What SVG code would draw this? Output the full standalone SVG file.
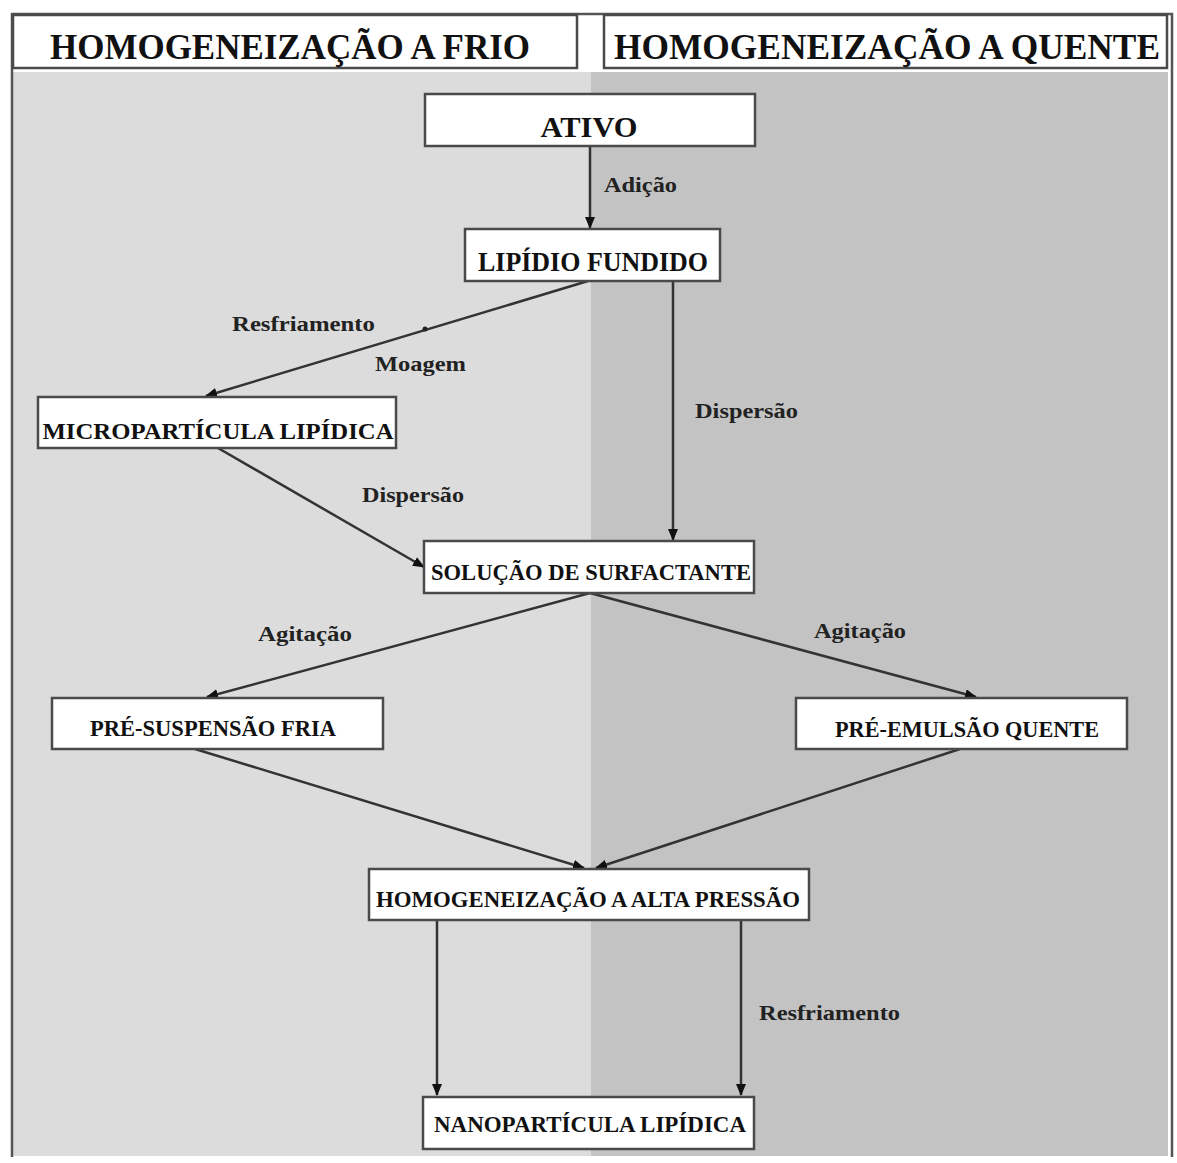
<svg xmlns="http://www.w3.org/2000/svg" width="1177" height="1163" viewBox="0 0 1177 1163">
<defs>
<style>
.box{fill:#fff;stroke:#4a4a4a;stroke-width:2.5}
.hdr{font-family:"Liberation Serif",serif;font-weight:bold;font-size:35px;fill:#111}
.nt{font-family:"Liberation Serif",serif;font-weight:bold;font-size:24px;fill:#111}
.lb{font-family:"Liberation Serif",serif;font-weight:bold;font-size:21px;fill:#222}
.cn{stroke:#333;stroke-width:2.5;fill:none;marker-end:url(#ah)}
</style>
<marker id="ah" viewBox="0 0 12 10" refX="11" refY="5" markerWidth="12" markerHeight="10" markerUnits="userSpaceOnUse" orient="auto">
<path d="M0,0 L12,5 L0,10 Z" fill="#111"/>
</marker>
</defs>
<rect x="0" y="0" width="1177" height="1163" fill="#fff"/>
<g id="background">
<rect x="13" y="72" width="578" height="1084" fill="#dcdcdc"/>
<rect x="591" y="72" width="577" height="1084" fill="#c3c3c3"/>
<path d="M12,1157 L12,14 L1172,14 L1172,1157" fill="none" stroke="#555" stroke-width="2.5"/>
</g>
<g id="header-frio">
<rect class="box" x="13" y="15" width="564" height="53"/>
<text class="hdr" x="290" y="59" text-anchor="middle" textLength="480" lengthAdjust="spacingAndGlyphs">HOMOGENEIZAÇÃO A FRIO</text>
</g>
<g id="header-quente">
<rect class="box" x="604" y="15" width="563" height="53"/>
<text class="hdr" x="887" y="59" text-anchor="middle" textLength="546" lengthAdjust="spacingAndGlyphs">HOMOGENEIZAÇÃO A QUENTE</text>
</g>
<g id="connectors">
<line class="cn" x1="590" y1="146" x2="590" y2="228"/>
<line class="cn" x1="588" y1="281" x2="206" y2="396"/>
<circle cx="425" cy="329" r="2.5" fill="#222"/>
<line class="cn" x1="673" y1="281" x2="673" y2="540"/>
<line class="cn" x1="218" y1="448" x2="424" y2="567"/>
<line class="cn" x1="590" y1="593" x2="207" y2="697"/>
<line class="cn" x1="590" y1="593" x2="976" y2="697"/>
<line class="cn" x1="195" y1="749" x2="584" y2="868"/>
<line class="cn" x1="960" y1="749" x2="596" y2="868"/>
<line class="cn" x1="437" y1="920" x2="437" y2="1095"/>
<line class="cn" x1="741" y1="920" x2="741" y2="1095"/>
<text class="lb" x="604" y="192" textLength="73" lengthAdjust="spacingAndGlyphs">Adição</text>
<text class="lb" x="232" y="331" textLength="143" lengthAdjust="spacingAndGlyphs">Resfriamento</text>
<text class="lb" x="375" y="371" textLength="91" lengthAdjust="spacingAndGlyphs">Moagem</text>
<text class="lb" x="695" y="418" textLength="103" lengthAdjust="spacingAndGlyphs">Dispersão</text>
<text class="lb" x="362" y="502" textLength="102" lengthAdjust="spacingAndGlyphs">Dispersão</text>
<text class="lb" x="258" y="641" textLength="94" lengthAdjust="spacingAndGlyphs">Agitação</text>
<text class="lb" x="814" y="638" textLength="92" lengthAdjust="spacingAndGlyphs">Agitação</text>
<text class="lb" x="759" y="1020" textLength="141" lengthAdjust="spacingAndGlyphs">Resfriamento</text>
</g>
<g id="ativo">
<rect class="box" x="425" y="94" width="330" height="52"/>
<text class="nt" x="589" y="137" text-anchor="middle" style="font-size:29px" textLength="97" lengthAdjust="spacingAndGlyphs">ATIVO</text>
</g>
<g id="lipidio-fundido">
<rect class="box" x="465" y="229" width="255" height="52"/>
<text class="nt" x="593" y="271" text-anchor="middle" style="font-size:27px" textLength="230" lengthAdjust="spacingAndGlyphs">LIPÍDIO FUNDIDO</text>
</g>
<g id="microparticula">
<rect class="box" x="38" y="397" width="358" height="51"/>
<text class="nt" x="218" y="439" text-anchor="middle" textLength="351" lengthAdjust="spacingAndGlyphs">MICROPARTÍCULA  LIPÍDICA</text>
</g>
<g id="solucao">
<rect class="box" x="424" y="541" width="330" height="52"/>
<text class="nt" x="591" y="580" text-anchor="middle" textLength="320" lengthAdjust="spacingAndGlyphs">SOLUÇÃO DE SURFACTANTE</text>
</g>
<g id="pre-suspensao">
<rect class="box" x="52" y="698" width="331" height="51"/>
<text class="nt" x="213" y="736" text-anchor="middle" textLength="246" lengthAdjust="spacingAndGlyphs">PRÉ-SUSPENSÃO FRIA</text>
</g>
<g id="pre-emulsao">
<rect class="box" x="796" y="698" width="331" height="51"/>
<text class="nt" x="967" y="737" text-anchor="middle" textLength="264" lengthAdjust="spacingAndGlyphs">PRÉ-EMULSÃO QUENTE</text>
</g>
<g id="homogeneizacao">
<rect class="box" x="369" y="869" width="440" height="51"/>
<text class="nt" x="588" y="907" text-anchor="middle" textLength="424" lengthAdjust="spacingAndGlyphs">HOMOGENEIZAÇÃO A ALTA PRESSÃO</text>
</g>
<g id="nanoparticula">
<rect class="box" x="423" y="1097" width="331" height="52"/>
<text class="nt" x="590" y="1132" text-anchor="middle" textLength="312" lengthAdjust="spacingAndGlyphs">NANOPARTÍCULA LIPÍDICA</text>
</g>
</svg>
